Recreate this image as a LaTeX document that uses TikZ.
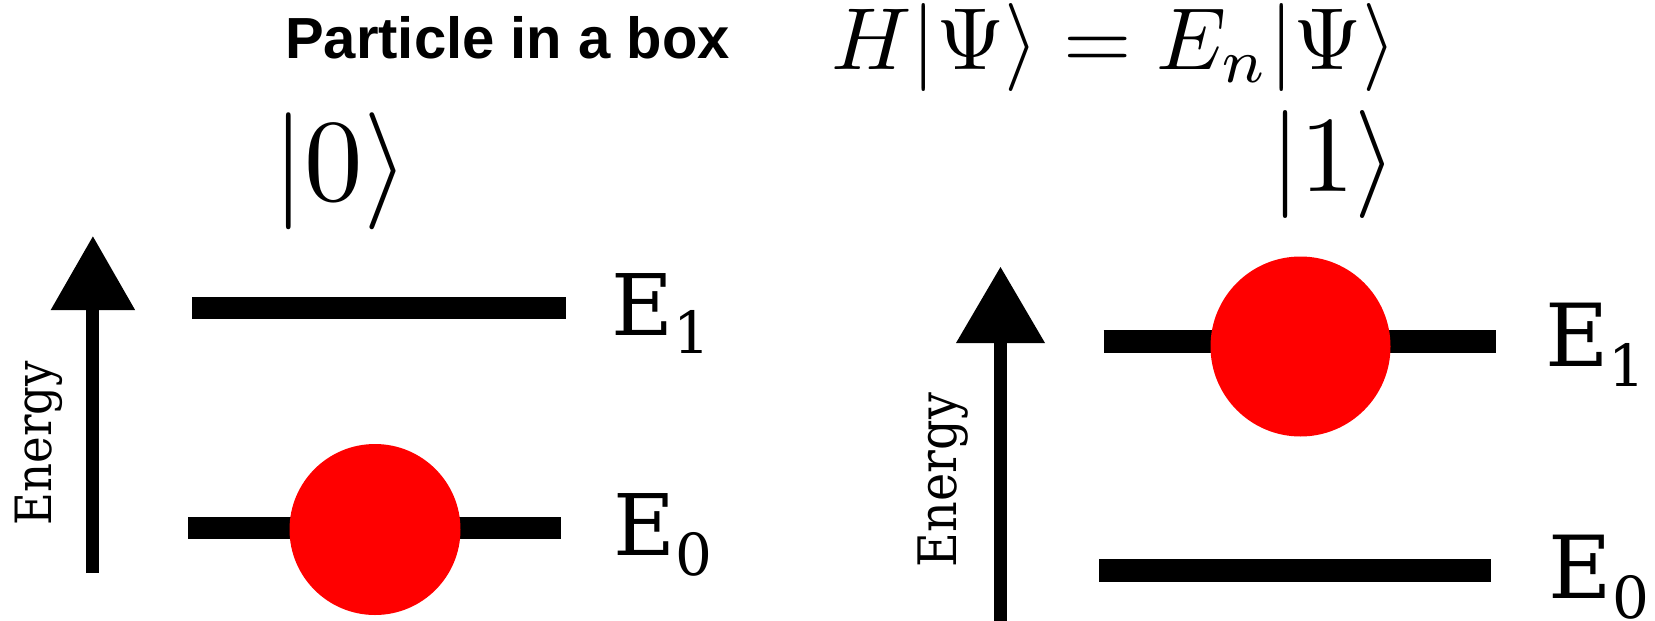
\RequirePackage{fix-cm}
\documentclass[tikz,border=0pt]{standalone}
\usepackage{fontspec}
\usepackage{graphicx}
\newfontfamily\titlefam{Liberation Sans}
\newfontfamily\dvserif{DejaVu Serif}
\newfontfamily\dvserifc[FakeStretch=0.9]{DejaVu Serif}
\newcommand\elab[4]{{\dvserif\fontsize{#1}{#1}\selectfont E\raisebox{-#3}{\fontsize{#2}{#2}\selectfont #4}}}
\begin{document}
\begin{tikzpicture}[x=1pt,y=-1pt,
  lvline/.style={line width=22pt},
  shaft/.style={line width=13pt},
  ball/.style={circle, fill=red, draw=none, inner sep=0pt, outer sep=0pt, minimum size=#1},
  txt/.style={inner sep=0pt, outer sep=0pt}]
\useasboundingbox (0,0) rectangle (1655,621);
% ---- left panel ----
\node[txt, anchor=base] (title) at (507.5,58) {\titlefam\bfseries\fontsize{58pt}{58pt}\selectfont Particle in a box};
\node[txt, anchor=base west] (ket0) at (272,200) {\normalsize\scalebox{11.7}{$|0\rangle$}};
\coordinate (la0) at (92.9,573);
\coordinate (la1) at (92.9,309);
\coordinate (lat) at (92.9,236.4);
\draw[shaft] (la0) -- (la1);
\fill (50.7,310) -- (lat) -- (135.1,310) -- cycle;
\node[txt, rotate=90, anchor=base] (enL) at (51.7,443) {\dvserifc\fontsize{50pt}{50pt}\selectfont Energy};
\coordinate (l1a) at (192,308); \coordinate (l1b) at (566,308);
\coordinate (l0a) at (188,527.5); \coordinate (l0b) at (561,527.5);
\draw[lvline] (l1a) -- (l1b);
\draw[lvline] (l0a) -- (l0b);
\node[ball=171pt] (ballL) at (375,529.5) {};
\node[txt, anchor=base west] (E1L) at (611.6,335) {\elab{85pt}{58pt}{18pt}{1}};
\node[txt, anchor=base west] (E0L) at (613.3,555) {\elab{85pt}{58pt}{20pt}{0}};
% ---- right panel ----
\node[txt, anchor=base west] (eq) at (831.5,69) {\normalsize\scalebox{8.8}{$H|\Psi\rangle = E_n|\Psi\rangle$}};
\node[txt, anchor=base west] (ket1) at (1270,191) {\normalsize\scalebox{10.8}{$|1\rangle$}};
\coordinate (ra0) at (1000,621);
\coordinate (ra1) at (1000,342);
\coordinate (rat) at (1000.5,267);
\draw[shaft] (ra0) -- (ra1);
\fill (956,343) -- (rat) -- (1045,343) -- cycle;
\node[txt, rotate=90, anchor=base] (enR) at (956,480) {\dvserifc\fontsize{53pt}{53pt}\selectfont Energy};
\coordinate (r1a) at (1103.5,341); \coordinate (r1b) at (1495.5,341);
\coordinate (r0a) at (1099,570); \coordinate (r0b) at (1491,570);
\draw[line width=23pt] (r1a) -- (r1b);
\draw[line width=23pt] (r0a) -- (r0b);
\node[ball=180pt] (ballR) at (1300.5,346.5) {};
\node[txt, anchor=base west] (E1R) at (1545,366) {\elab{87pt}{58pt}{20pt}{1}};
\node[txt, anchor=base west] (E0R) at (1548.5,598.3) {\elab{87pt}{58pt}{20pt}{0}};
\end{tikzpicture}
\end{document}
